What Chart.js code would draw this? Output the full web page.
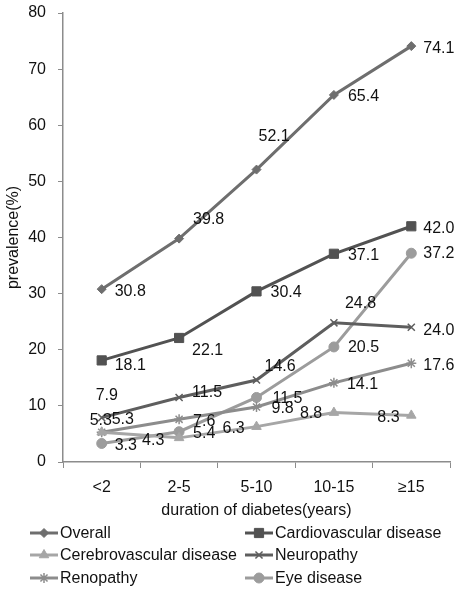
<!DOCTYPE html>
<html>
<head>
<meta charset="utf-8">
<script src="https://cdn.jsdelivr.net/npm/chart.js@4/dist/chart.umd.min.js"></script>
<style>
  html, body { margin: 0; padding: 0; background: #fff; }
  #wrap { width: 460px; height: 599px; }
</style>
</head>
<body>
<div id="wrap"><canvas id="chart" width="460" height="599"></canvas></div>
<script>
const categories = ["<2", "2-5", "5-10", "10-15", "≥15"];
const overall = [30.8, 39.8, 52.1, 65.4, 74.1];
const cardiovascular = [18.1, 22.1, 30.4, 37.1, 42.0];
const cerebrovascular = [5.3, 4.3, 6.3, 8.8, 8.3];
const neuropathy = [7.9, 11.5, 14.6, 24.8, 24.0];
const renopathy = [5.3, 7.6, 9.8, 14.1, 17.6];
const eyeDisease = [3.3, 5.4, 11.5, 20.5, 37.2];

const fontFamily = "'Liberation Sans', Arial, sans-serif";
const axisColor = "#8c8c8c";
const textColor = "#111111";

// label offsets (text left edge / middle), relative to each point
const labelOffsets = [
    [[13, 2], [14, -19], [2, -33], [14, 2], [12, 2]],
    [[13, 5], [13, 13], [14, 1], [14, 2], [12, 2]],
    [[-12, -12], [-37, 3], [-34, 2], [-34, 1], [-34, 2]],
    [[-6, -22], [13, -5], [8, -13], [11, -19], [12, 3]],
    [[10, -13], [14, 2], [15, 2], [13, 2], [12, 2]],
    [[13, 2], [14, 2], [16, 1], [14, 1], [12, 0]]
];

function series(label, data, color, pointStyle, radius) {
    return {
        label: label,
        data: data,
        borderColor: color,
        backgroundColor: color,
        pointBackgroundColor: color,
        pointBorderColor: color,
        borderWidth: 3,
        pointStyle: pointStyle,
        pointRadius: radius,
        pointBorderWidth: pointStyle === "crossRot" || pointStyle === "star" ? 1.5 : 1,
        tension: 0
    };
}

const dataLabels = {
    id: "dataLabels",
    afterDatasetsDraw(chart) {
        const ctx = chart.ctx;
        ctx.save();
        ctx.font = "16px " + fontFamily;
        ctx.fillStyle = textColor;
        ctx.textAlign = "left";
        ctx.textBaseline = "middle";
        chart.data.datasets.forEach((ds, i) => {
            const meta = chart.getDatasetMeta(i);
            meta.data.forEach((pt, j) => {
                const off = labelOffsets[i][j];
                ctx.fillText(ds.data[j].toFixed(1), pt.x + off[0], pt.y + off[1]);
            });
        });
        ctx.restore();
    }
};

const legendBox = {
    id: "legendBox",
    afterDraw(chart) {
        const ctx = chart.ctx;
        const cols = [30, 245];
        const rows = [533, 555, 578];
        ctx.save();
        ctx.font = "16px " + fontFamily;
        ctx.textAlign = "left";
        ctx.textBaseline = "middle";
        chart.data.datasets.forEach((ds, i) => {
            const x = cols[i % 2];
            const y = rows[Math.floor(i / 2)];
            ctx.strokeStyle = ds.borderColor;
            ctx.lineWidth = 3;
            ctx.beginPath();
            ctx.moveTo(x, y);
            ctx.lineTo(x + 28, y);
            ctx.stroke();
            ctx.fillStyle = ds.backgroundColor;
            ctx.lineWidth = ds.pointBorderWidth;
            Chart.helpers.drawPoint(ctx, {
                pointStyle: ds.pointStyle,
                radius: ds.pointRadius,
                rotation: 0,
                borderWidth: ds.pointBorderWidth
            }, x + 14, y);
            ctx.fillStyle = textColor;
            ctx.fillText(ds.label, x + 30, y + 1);
        });
        ctx.restore();
    }
};

new Chart(document.getElementById("chart"), {
    type: "line",
    data: {
        labels: categories,
        datasets: [
            series("Overall", overall, "#6e6e6e", "rectRot", 4.5),
            series("Cardiovascular disease", cardiovascular, "#525252", "rect", 6.5),
            series("Cerebrovascular disease", cerebrovascular, "#a6a6a6", "triangle", 5.5),
            series("Neuropathy", neuropathy, "#5e5e5e", "crossRot", 5),
            series("Renopathy", renopathy, "#8c8c8c", "star", 5),
            series("Eye disease", eyeDisease, "#9c9c9c", "circle", 5)
        ]
    },
    options: {
        responsive: false,
        animation: { duration: 0 },
        devicePixelRatio: 1,
        layout: {
            autoPadding: false,
            padding: { left: 4, right: 10, top: 13, bottom: 79 }
        },
        plugins: {
            legend: { display: false },
            title: { display: false },
            tooltip: { enabled: false }
        },
        scales: {
            x: {
                offset: true,
                grid: {
                    offset: true,
                    drawOnChartArea: false,
                    drawTicks: true,
                    tickLength: 6,
                    color: axisColor
                },
                border: { color: axisColor, width: 1.5 },
                ticks: {
                    color: textColor,
                    padding: 10,
                    maxRotation: 0,
                    font: { size: 16, family: fontFamily }
                },
                title: {
                    display: true,
                    text: "duration of diabetes(years)",
                    color: textColor,
                    padding: { top: 2, bottom: 0 },
                    font: { size: 16, family: fontFamily }
                },
                afterFit: s => { s.height = 58; s.paddingLeft = 0; s.paddingRight = 0; }
            },
            y: {
                min: 0,
                max: 80,
                grid: {
                    drawOnChartArea: false,
                    drawTicks: true,
                    tickLength: 5,
                    color: axisColor
                },
                border: { color: axisColor, width: 1.5 },
                ticks: {
                    stepSize: 10,
                    color: textColor,
                    padding: 12,
                    font: { size: 16, family: fontFamily }
                },
                title: {
                    display: true,
                    text: "prevalence(%)",
                    color: textColor,
                    padding: { top: 0, bottom: 0 },
                    font: { size: 16, family: fontFamily }
                },
                afterFit: s => { s.width = 59; s.paddingTop = 0; s.paddingBottom = 0; }
            }
        }
    },
    plugins: [dataLabels, legendBox]
});
</script>
</body>
</html>
